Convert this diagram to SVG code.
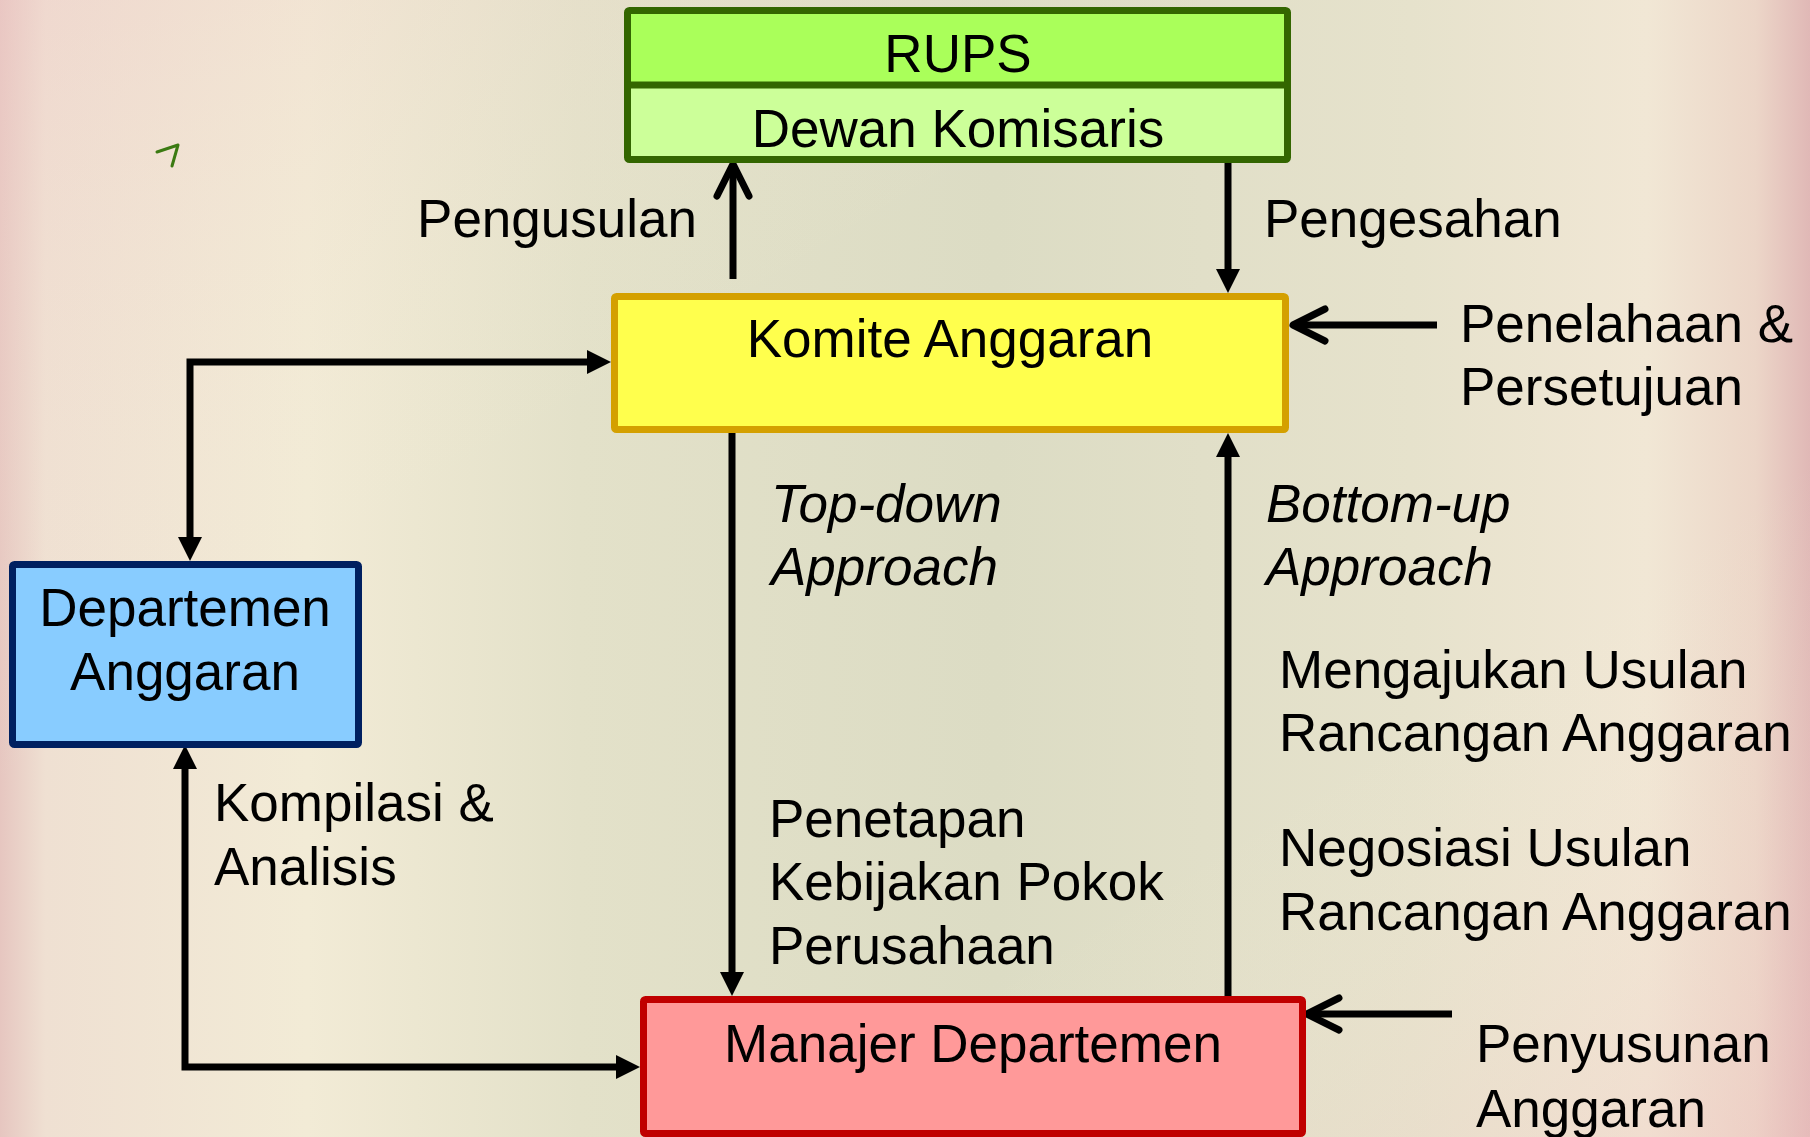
<svg xmlns="http://www.w3.org/2000/svg" width="1810" height="1137" viewBox="0 0 1810 1137">
<defs>
<linearGradient id="bg" x1="0" y1="0" x2="1" y2="0">
<stop offset="0" stop-color="#e6c6c0"/>
<stop offset="0.025" stop-color="#efe0d2"/>
<stop offset="0.17" stop-color="#f2ebd6"/>
<stop offset="0.32" stop-color="#e3e1c9"/>
<stop offset="0.55" stop-color="#dcdcc4"/>
<stop offset="0.78" stop-color="#e6e2cc"/>
<stop offset="0.91" stop-color="#f1e7d5"/>
<stop offset="0.97" stop-color="#ecd6c8"/>
<stop offset="1" stop-color="#e0b8b6"/>
</linearGradient>
<linearGradient id="tint" x1="0" y1="0" x2="1" y2="1">
<stop offset="0" stop-color="#f0c8c8" stop-opacity="0.35"/>
<stop offset="0.35" stop-color="#f4f0d8" stop-opacity="0"/>
<stop offset="0.7" stop-color="#f4f0d8" stop-opacity="0"/>
<stop offset="1" stop-color="#f0c0c0" stop-opacity="0.35"/>
</linearGradient>
<marker id="tri" markerUnits="userSpaceOnUse" markerWidth="26" markerHeight="26" viewBox="0 -13 26 26" refX="0" refY="0" orient="auto-start-reverse">
<path d="M0,-12 L24,0 L0,12 z" fill="#000"/>
</marker>
<marker id="chev" markerUnits="userSpaceOnUse" markerWidth="44" markerHeight="44" viewBox="-38 -22 44 44" refX="0" refY="0" orient="auto">
<polyline points="-32,-16 0,0 -32,16" fill="none" stroke="#000" stroke-width="7" stroke-linecap="round" stroke-linejoin="round"/>
</marker>
<style>
text{font-family:"Liberation Sans",Arial,sans-serif;font-size:53px;fill:#000}
.c{text-anchor:middle}
.i{font-style:italic}
.conn{fill:none;stroke:#000;stroke-width:7}
</style>
</defs>
<rect width="1810" height="1137" fill="url(#bg)"/>
<rect width="1810" height="1137" fill="url(#tint)"/>
<path d="M157 152 L178 145 L172 166" fill="none" stroke="#3b7a12" stroke-width="3" stroke-linecap="round" stroke-linejoin="round"/>

<g id="connectors">
<path class="conn" d="M733 279 V164" marker-end="url(#chev)"/>
<path class="conn" d="M1228 162 V269" marker-end="url(#tri)"/>
<path class="conn" d="M190 537 V362 H587" marker-start="url(#tri)" marker-end="url(#tri)"/>
<path class="conn" d="M185 769 V1067 H616" marker-start="url(#tri)" marker-end="url(#tri)"/>
<path class="conn" d="M732 433 V972" marker-end="url(#tri)"/>
<path class="conn" d="M1228 996 V457" marker-end="url(#tri)"/>
<path class="conn" d="M1437 325 H1293" marker-end="url(#chev)"/>
<path class="conn" d="M1452 1014 H1307" marker-end="url(#chev)"/>
</g>

<g id="rups">
<rect x="627.5" y="10.5" width="660" height="74.5" fill="#aaff5a"/>
<rect x="627.5" y="85" width="660" height="74.5" fill="#ccff99"/>
<rect x="627.5" y="10.5" width="660" height="149" rx="2" fill="none" stroke="#336600" stroke-width="7"/>
<line x1="627.5" y1="85" x2="1287.5" y2="85" stroke="#336600" stroke-width="7"/>
<text class="c" x="958" y="72">RUPS</text>
<text class="c" x="958" y="147">Dewan Komisaris</text>
</g>

<g id="komite">
<rect x="614.5" y="296.5" width="671" height="133" rx="2" fill="#ffff4d" stroke="#d4a000" stroke-width="7"/>
<text class="c" x="950" y="357">Komite Anggaran</text>
</g>

<g id="departemen">
<rect x="12.5" y="564.5" width="346" height="180" rx="2" fill="#88ccff" stroke="#002060" stroke-width="7"/>
<text class="c" x="185" y="626">Departemen</text>
<text class="c" x="185" y="690">Anggaran</text>
</g>

<g id="manajer">
<rect x="643.5" y="999.5" width="659" height="134" rx="2" fill="#ff9999" stroke="#c00000" stroke-width="7"/>
<text class="c" x="973" y="1062">Manajer Departemen</text>
</g>

<g id="labels">
<text x="697" y="237" text-anchor="end">Pengusulan</text>
<text x="1264" y="237">Pengesahan</text>
<text x="1460" y="342">Penelahaan &amp;</text>
<text x="1460" y="405">Persetujuan</text>
<text class="i" x="771" y="522">Top-down</text>
<text class="i" x="771" y="585">Approach</text>
<text class="i" x="1266" y="522">Bottom-up</text>
<text class="i" x="1266" y="585">Approach</text>
<text x="1279" y="688">Mengajukan Usulan</text>
<text x="1279" y="751">Rancangan Anggaran</text>
<text x="1279" y="866">Negosiasi Usulan</text>
<text x="1279" y="930">Rancangan Anggaran</text>
<text x="769" y="837">Penetapan</text>
<text x="769" y="900">Kebijakan Pokok</text>
<text x="769" y="964">Perusahaan</text>
<text x="214" y="821">Kompilasi &amp;</text>
<text x="214" y="885">Analisis</text>
<text x="1476" y="1062">Penyusunan</text>
<text x="1476" y="1127">Anggaran</text>
</g>
</svg>
